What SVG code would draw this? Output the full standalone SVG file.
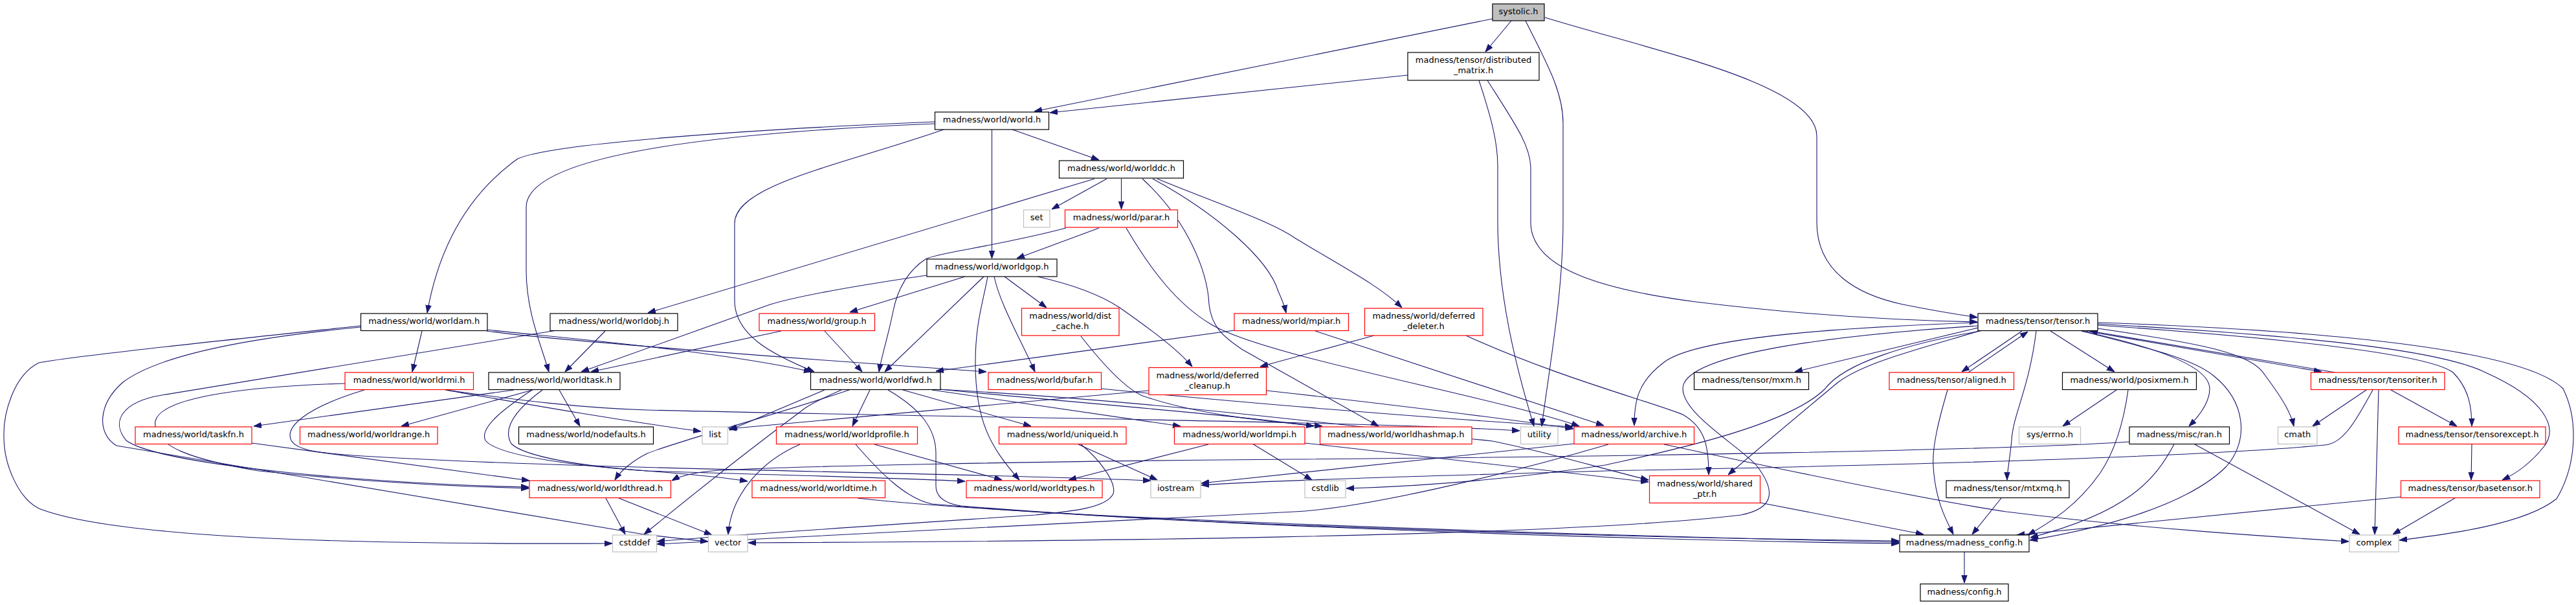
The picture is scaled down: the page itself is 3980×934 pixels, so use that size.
<svg xmlns="http://www.w3.org/2000/svg" width="3980" height="934" viewBox="0 0 3980 934">
<defs>
<marker id="a" viewBox="0 0 12 10" refX="12" refY="5" markerWidth="12" markerHeight="10" markerUnits="userSpaceOnUse" orient="auto"><path d="M0,0.8 L12,5 L0,9.2 Z" fill="#191970" stroke="#191970" stroke-width="1"/></marker>
<style>
.n rect{fill:#fff;stroke:#000;stroke-width:1.2}
.r rect{stroke:#ff0000}
.g rect{stroke:#bfbfbf}
.root rect{fill:#bfbfbf}
text{font-family:"DejaVu Sans",sans-serif;font-size:13px;text-anchor:middle;fill:#000}
#edges path{fill:none;stroke:#191970;stroke-width:1.1;marker-end:url(#a)}
</style>
</defs>
<rect width="3980" height="934" fill="#fff"/>
<g id="edges">
<path d="M2306,29 L1598,172"/>
<path d="M2335,32 L2295,80"/>
<path d="M2357,32 C2388,95 2415,140 2415,190 L2415,340 C2415,450 2395,560 2382,658"/>
<path d="M2387,27 C2560,80 2807,130 2807,210 L2807,343 C2807,420 2870,455 2940,470 C2990,480 3020,485 3055,490"/>
<path d="M2175,116 L1622,174"/>
<path d="M2285,124 C2305,185 2314,220 2314,257 L2314,340 C2314,450 2340,560 2370,658"/>
<path d="M2298,124 C2340,190 2365,225 2365,260 L2365,343 C2365,410 2460,445 2620,466 C2800,488 2950,495 3055,497"/>
<path d="M1564,200 L1698,247"/>
<path d="M1532.5,200 L1532.5,399"/>
<path d="M1444,188 C1150,200 850,222 800,245 C730,295 680,370 660,483"/>
<path d="M1444,191 C1100,205 813,240 813,320 L813,417 C813,480 835,530 848,574"/>
<path d="M1458,200 C1300,255 1135,285 1135,345 L1135,464 C1135,520 1200,550 1258,574"/>
<path d="M1710,276 L1625,323"/>
<path d="M1732.5,276 L1732.5,323"/>
<path d="M1691,276 L1001,483"/>
<path d="M1765,276 C1835,340 1866,420 1868,470 C1872,505 1890,520 1920,540 L2130,658"/>
<path d="M1781,276 C1880,330 1960,400 1975,450 C1982,465 1985,474 1987,483"/>
<path d="M1788,276 C1870,310 1960,340 2000,367 C2070,410 2130,440 2166,475"/>
<path d="M1698,352 L1571,399"/>
<path d="M1647,352 C1540,380 1450,390 1430,400 C1400,420 1386,450 1380,480 C1372,520 1362,550 1358,574"/>
<path d="M1740,352 C1780,420 1820,470 1870,500 C1950,550 2300,610 2440,658"/>
<path d="M1432,425 C1330,440 1240,455 1190,470 L898,574"/>
<path d="M1491,427 L1313,482"/>
<path d="M1520,427 L1367,574"/>
<path d="M1526,427 C1518,470 1507,500 1507,560 C1507,650 1530,690 1575,741"/>
<path d="M1536,427 C1545,470 1580,530 1599,574"/>
<path d="M1552,427 L1617,475"/>
<path d="M1603,427 C1660,440 1700,455 1730,475 C1780,510 1820,540 1842,566"/>
<path d="M652,511 L637,574"/>
<path d="M752,509 C850,520 1100,540 1254,574"/>
<path d="M752,511 C850,525 1250,555 1524,574"/>
<path d="M557,503 C350,525 110,550 60,560 C20,580 5,640 6,674 C6,720 30,770 60,785 C200,840 700,840 946,839"/>
<path d="M557,505 C400,520 250,545 190,590 C150,625 150,670 180,688 L995,825 C1040,830 1070,834 1094,836"/>
<path d="M935,511 L873,574"/>
<path d="M860,510 L250,610 C190,620 170,650 195,680 C250,720 600,748 817,752"/>
<path d="M533,592 C400,596 250,610 240,650 C235,690 300,710 400,727 C600,748 750,752 817,754"/>
<path d="M688,602 C820,625 950,648 1083,666"/>
<path d="M690,602 C800,618 900,630 1000,633 C1500,645 2100,650 2348,665"/>
<path d="M563,602 C470,630 440,660 450,680 C460,697 500,700 560,704 C900,725 1500,730 1778,742"/>
<path d="M794,602 L392,658"/>
<path d="M823,602 L620,658"/>
<path d="M864,602 L896,658"/>
<path d="M822,602 C780,630 740,660 750,680 C770,705 900,720 1000,727 C1080,733 1120,737 1155,743"/>
<path d="M838,602 C800,630 775,660 790,685 C810,705 900,720 1000,727 C1250,735 1400,738 1491,743"/>
<path d="M1274,602 L1127,664"/>
<path d="M1775,603 L1126,662"/>
<path d="M1344,602 L1317,658"/>
<path d="M1395,602 L1593,658"/>
<path d="M1440,602 L1824,658"/>
<path d="M1440,600 C1700,625 1900,640 2030,658"/>
<path d="M1450,601 C1800,620 2100,660 2306,681 C2400,700 2480,725 2547,741"/>
<path d="M1312,602 C1200,640 1050,680 1000,700 C980,710 960,725 950,741"/>
<path d="M1300,602 C1270,615 1250,625 1240,633 C1150,700 1050,780 995,825"/>
<path d="M1372,602 C1420,630 1446,660 1446,700 L1446,750 C1446,770 1465,778 1485,781 C1900,815 2600,835 2934,839"/>
<path d="M1701,600 C1900,620 2200,645 2430,659"/>
<path d="M1670,519 C1710,570 1740,600 1765,611 C1850,640 1950,650 2043,658"/>
<path d="M1907,510 L1446,573"/>
<path d="M2032,511 L2478,657"/>
<path d="M2123,518 L1947,566"/>
<path d="M2265,518 C2400,580 2550,620 2600,640 C2635,660 2640,690 2640,733"/>
<path d="M1957,603 C2200,630 2350,650 2431,662"/>
<path d="M1236,686 C1180,710 1130,760 1125,825"/>
<path d="M1351,686 L1548,741"/>
<path d="M1322,686 C1360,730 1400,770 1440,778 C1800,810 2500,830 2934,835"/>
<path d="M1325,769 C1600,800 2400,825 2934,837"/>
<path d="M1666,686 L1788,741"/>
<path d="M1670,686 C1700,710 1725,745 1720,762 C1710,785 1650,790 1600,795 C1300,815 1100,828 1015,836"/>
<path d="M1867,686 L1651,741"/>
<path d="M1935,685 L2027,741"/>
<path d="M2016,684 L2547,744"/>
<path d="M2432,685 C2200,710 2000,730 1856,746"/>
<path d="M2485,686 C2300,740 2100,785 2000,790 C1600,810 1200,830 1015,840"/>
<path d="M2571,686 C2800,735 3000,775 3100,790 C3300,815 3500,828 3629,836"/>
<path d="M3056,503 C2800,520 2600,550 2600,600 C2600,640 2690,690 2715,720 C2745,760 2740,785 2690,795 C2400,830 1600,836 1156,838"/>
<path d="M3056,498 C2850,505 2620,520 2570,560 C2530,590 2525,620 2525,657"/>
<path d="M3058,511 C2960,540 2880,560 2840,590 C2780,640 2720,690 2670,733"/>
<path d="M3060,511 C2950,530 2850,560 2820,600 C2760,660 2560,700 2480,718 C2300,745 2150,752 2080,754"/>
<path d="M3056,506 L2773,574"/>
<path d="M3124,511 L3031,574"/>
<path d="M3041,575 L3133,512"/>
<path d="M3168,511 L3267,574"/>
<path d="M3146,511 C3135,600 3110,640 3108,680 C3105,710 3101,730 3101,741"/>
<path d="M3216,511 C3350,540 3414,570 3414,600 C3414,620 3400,640 3382,658"/>
<path d="M3241,507 C3400,530 3480,545 3500,580 C3530,620 3540,640 3544,658"/>
<path d="M3222,511 L3587,574"/>
<path d="M3608,575 L3229,511"/>
<path d="M3241,502 C3500,520 3750,545 3790,575 C3815,600 3819,630 3819,658"/>
<path d="M3241,500 C3500,515 3760,535 3840,575 C3930,615 3955,660 3930,690 C3910,715 3890,730 3866,741"/>
<path d="M3241,498 C3600,510 3900,540 3960,600 C3985,650 3980,720 3950,770 C3900,810 3780,825 3707,834"/>
<path d="M3216,511 C3330,540 3390,555 3420,580 C3470,620 3475,680 3440,720 C3380,780 3250,815 3136,834"/>
<path d="M3656,602 L3573,658"/>
<path d="M3675,602 L3669,825"/>
<path d="M3694,602 L3796,658"/>
<path d="M3666,602 C3640,650 3620,685 3592,687 C3400,705 3000,717 2480,727 C2200,735 1950,742 1856,749"/>
<path d="M3819,685 L3818,741"/>
<path d="M3793,769 L3697,825"/>
<path d="M3710,767 L3116,826"/>
<path d="M3270,602 L3187,658"/>
<path d="M3288,602 C3280,660 3265,700 3245,730 C3210,780 3170,805 3133,826"/>
<path d="M3391,686 L3646,825"/>
<path d="M3359,686 C3330,740 3290,790 3137,830"/>
<path d="M3290,682 C3100,695 2500,705 2000,709 C1600,712 1200,720 1100,727 C1070,730 1050,735 1038,742"/>
<path d="M3092,769 L3047,825"/>
<path d="M3009,602 C2995,650 2985,690 2987,720 C2990,770 3005,800 3018,825"/>
<path d="M3035,852 L3035,900"/>
<path d="M2719,776 L2972,825"/>
<path d="M936,769 L966,825"/>
<path d="M956,769 L1100,826"/>
<path d="M389,684 L818,742"/>
<path d="M1207,511 L913,574"/>
<path d="M1274,511 L1332,574"/>
</g>
<g id="systolic" class="n root"><rect x="2306" y="6" width="80" height="26"/><text x="2346" y="22">systolic.h</text></g>
<g id="distributed_matrix" class="n"><rect x="2175" y="81" width="203" height="43"/><text x="2276.5" y="97">madness/tensor/distributed</text><text x="2276.5" y="113">_matrix.h</text></g>
<g id="world" class="n"><rect x="1444.5" y="173" width="176" height="27"/><text x="1532.5" y="189">madness/world/world.h</text></g>
<g id="worlddc" class="n"><rect x="1636.5" y="248" width="192" height="27"/><text x="1732.5" y="264">madness/world/worlddc.h</text></g>
<g id="set" class="n g"><rect x="1581.5" y="324" width="40.5" height="27"/><text x="1601.7" y="340">set</text></g>
<g id="parar" class="n r"><rect x="1645.5" y="324" width="174" height="27"/><text x="1732.5" y="340">madness/world/parar.h</text></g>
<g id="worldgop" class="n"><rect x="1432" y="400" width="201" height="27"/><text x="1532.5" y="416">madness/world/worldgop.h</text></g>
<g id="worldam" class="n"><rect x="557.5" y="484" width="195.5" height="26.5"/><text x="655.2" y="500">madness/world/worldam.h</text></g>
<g id="worldobj" class="n"><rect x="850" y="484" width="197" height="26.5"/><text x="948.5" y="500">madness/world/worldobj.h</text></g>
<g id="group" class="n r"><rect x="1173" y="484" width="178.5" height="26.5"/><text x="1262.2" y="500">madness/world/group.h</text></g>
<g id="dist_cache" class="n r"><rect x="1578.5" y="476" width="150.5" height="42"/><text x="1653.7" y="492">madness/world/dist</text><text x="1653.7" y="508">_cache.h</text></g>
<g id="mpiar" class="n r"><rect x="1907" y="484" width="176.5" height="26.5"/><text x="1995.2" y="500">madness/world/mpiar.h</text></g>
<g id="deferred_deleter" class="n r"><rect x="2108.5" y="476" width="182.5" height="42"/><text x="2199.7" y="492">madness/world/deferred</text><text x="2199.7" y="508">_deleter.h</text></g>
<g id="tensor" class="n"><rect x="3056" y="484" width="185" height="26.5"/><text x="3148.5" y="500">madness/tensor/tensor.h</text></g>
<g id="worldrmi" class="n r"><rect x="533" y="575" width="198.5" height="26.5"/><text x="632.2" y="591">madness/world/worldrmi.h</text></g>
<g id="worldtask" class="n"><rect x="755" y="575" width="203" height="26.5"/><text x="856.5" y="591">madness/world/worldtask.h</text></g>
<g id="worldfwd" class="n"><rect x="1252.5" y="575" width="200.5" height="26.5"/><text x="1352.7" y="591">madness/world/worldfwd.h</text></g>
<g id="bufar" class="n r"><rect x="1527" y="575" width="174.5" height="26.5"/><text x="1614.2" y="591">madness/world/bufar.h</text></g>
<g id="deferred_cleanup" class="n r"><rect x="1775" y="567.5" width="181.5" height="42"/><text x="1865.7" y="584">madness/world/deferred</text><text x="1865.7" y="600">_cleanup.h</text></g>
<g id="mxm" class="n"><rect x="2617.5" y="575" width="177" height="26.5"/><text x="2706" y="591">madness/tensor/mxm.h</text></g>
<g id="aligned" class="n r"><rect x="2919" y="575" width="192.5" height="26.5"/><text x="3015.2" y="591">madness/tensor/aligned.h</text></g>
<g id="posixmem" class="n"><rect x="3186.5" y="575" width="207" height="26.5"/><text x="3290" y="591">madness/world/posixmem.h</text></g>
<g id="tensoriter" class="n r"><rect x="3570.5" y="575" width="206.5" height="26.5"/><text x="3673.7" y="591">madness/tensor/tensoriter.h</text></g>
<g id="taskfn" class="n r"><rect x="209" y="659" width="180" height="26.5"/><text x="299" y="675">madness/world/taskfn.h</text></g>
<g id="worldrange" class="n r"><rect x="463.5" y="659" width="212.5" height="26.5"/><text x="569.7" y="675">madness/world/worldrange.h</text></g>
<g id="nodefaults" class="n"><rect x="801.5" y="659" width="208" height="26.5"/><text x="905.5" y="675">madness/world/nodefaults.h</text></g>
<g id="list" class="n g"><rect x="1085" y="659" width="39.5" height="26.5"/><text x="1104.7" y="675">list</text></g>
<g id="worldprofile" class="n r"><rect x="1199.5" y="659" width="218" height="26.5"/><text x="1308.5" y="675">madness/world/worldprofile.h</text></g>
<g id="uniqueid" class="n r"><rect x="1543.5" y="659" width="196.5" height="26.5"/><text x="1641.7" y="675">madness/world/uniqueid.h</text></g>
<g id="worldmpi" class="n r"><rect x="1814.5" y="659" width="201.5" height="26.5"/><text x="1915.2" y="675">madness/world/worldmpi.h</text></g>
<g id="worldhashmap" class="n r"><rect x="2039.5" y="659" width="234.5" height="26.5"/><text x="2156.7" y="675">madness/world/worldhashmap.h</text></g>
<g id="utility" class="n g"><rect x="2349.5" y="659" width="57.5" height="26.5"/><text x="2378.2" y="675">utility</text></g>
<g id="archive" class="n r"><rect x="2432" y="659" width="185.5" height="26.5"/><text x="2524.7" y="675">madness/world/archive.h</text></g>
<g id="errno" class="n g"><rect x="3119.5" y="659" width="95" height="26.5"/><text x="3167" y="675">sys/errno.h</text></g>
<g id="ran" class="n"><rect x="3290" y="659" width="154.5" height="26.5"/><text x="3367.2" y="675">madness/misc/ran.h</text></g>
<g id="cmath" class="n g"><rect x="3519.5" y="659" width="60.5" height="26.5"/><text x="3549.7" y="675">cmath</text></g>
<g id="tensorexcept" class="n r"><rect x="3706" y="659" width="227" height="26.5"/><text x="3819.5" y="675">madness/tensor/tensorexcept.h</text></g>
<g id="worldthread" class="n r"><rect x="818" y="742" width="218.5" height="26.5"/><text x="927.2" y="758">madness/world/worldthread.h</text></g>
<g id="worldtime" class="n r"><rect x="1162" y="742" width="205.5" height="26.5"/><text x="1264.7" y="758">madness/world/worldtime.h</text></g>
<g id="worldtypes" class="n r"><rect x="1493" y="742" width="210" height="26.5"/><text x="1598" y="758">madness/world/worldtypes.h</text></g>
<g id="iostream" class="n g"><rect x="1778" y="742" width="77" height="26.5"/><text x="1816.5" y="758">iostream</text></g>
<g id="cstdlib" class="n g"><rect x="2016" y="742" width="63" height="26.5"/><text x="2047.5" y="758">cstdlib</text></g>
<g id="shared_ptr" class="n r"><rect x="2548.5" y="734.5" width="171" height="42"/><text x="2634" y="750.5">madness/world/shared</text><text x="2634" y="766.5">_ptr.h</text></g>
<g id="mtxmq" class="n"><rect x="3007" y="742" width="190" height="26.5"/><text x="3102" y="758">madness/tensor/mtxmq.h</text></g>
<g id="basetensor" class="n r"><rect x="3709.5" y="742" width="214.5" height="26.5"/><text x="3816.7" y="758">madness/tensor/basetensor.h</text></g>
<g id="cstddef" class="n g"><rect x="946.5" y="826" width="68" height="26"/><text x="980.5" y="842">cstddef</text></g>
<g id="vector" class="n g"><rect x="1094.5" y="826" width="60.5" height="26"/><text x="1124.7" y="842">vector</text></g>
<g id="madness_config" class="n"><rect x="2935" y="826" width="200" height="26"/><text x="3035" y="842">madness/madness_config.h</text></g>
<g id="complex" class="n g"><rect x="3630" y="826" width="76" height="26"/><text x="3668" y="842">complex</text></g>
<g id="config" class="n"><rect x="2967" y="901.5" width="136" height="26.5"/><text x="3035" y="917.5">madness/config.h</text></g>
</svg>
